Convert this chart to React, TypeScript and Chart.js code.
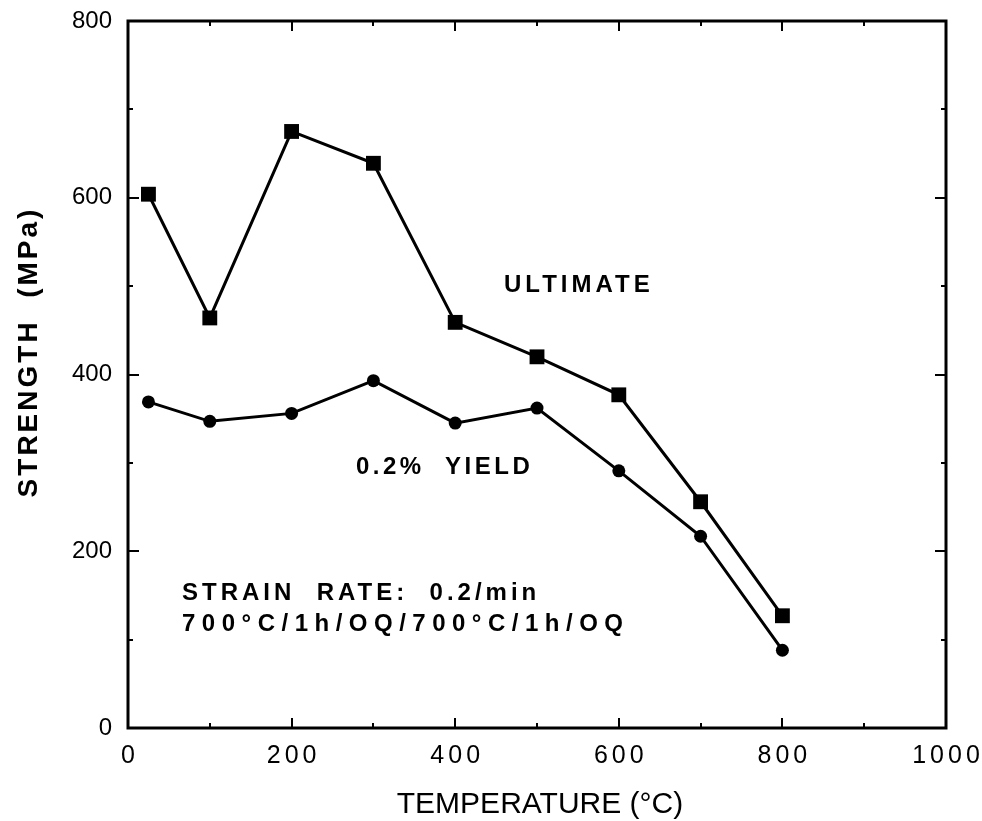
import React, { useEffect, useRef } from "react";
import { Chart, registerables } from "chart.js";

Chart.register(...registerables);

// Test temperatures (°C)
const temperatures = [25, 100, 200, 300, 400, 500, 600, 700, 800];
// Ultimate tensile strength (MPa)
const ultimateStrength = [604, 464, 675, 639, 459, 420, 377, 256, 127];
// 0.2% offset yield strength (MPa)
const yieldStrength = [369, 347, 356, 393, 345, 362, 291, 217, 88];

// Axis ranges and tick spacing
const xRange = [0, 1000];
const yRange = [0, 800];
const tickStep = 100;
const labelStep = 200;

const FONT = '"Liberation Sans", Arial, Helvetica, sans-serif';

const W = 982;
const H = 821;
const PLOT_TOP = 21;
const PLOT_BOTTOM = 728;

type Note = { text: string; x: number; y: number; size: number; spacing: number };

const notes: Note[] = [
  { text: "ULTIMATE", x: 504, y: 285, size: 24, spacing: 4 },
  { text: "0.2%  YIELD", x: 356, y: 467, size: 24, spacing: 3.5 },
  { text: "STRAIN  RATE:  0.2/min", x: 182, y: 593, size: 24, spacing: 4 },
  { text: "700°C/1h/OQ/700°C/1h/OQ", x: 182, y: 624, size: 24, spacing: 6.5 },
];

const framePlugin = {
  id: "frame",
  afterDraw(chart: any) {
    const { ctx, chartArea, scales } = chart;
    const { left, right, top, bottom } = chartArea;
    const xs = scales.x;
    const ys = scales.y;
    ctx.save();
    ctx.strokeStyle = "#000";
    ctx.lineWidth = 3;
    ctx.strokeRect(left, top, right - left, bottom - top);

    // inward ticks on all four sides
    ctx.lineWidth = 2;
    ctx.beginPath();
    xs.ticks.forEach((t: any) => {
      if (t.value <= xRange[0] || t.value >= xRange[1]) return;
      const px = Math.round(xs.getPixelForValue(t.value));
      const len = t.value % labelStep === 0 ? 10 : 5;
      ctx.moveTo(px, bottom);
      ctx.lineTo(px, bottom - len);
      ctx.moveTo(px, top);
      ctx.lineTo(px, top + len);
    });
    ys.ticks.forEach((t: any) => {
      if (t.value <= yRange[0] || t.value >= yRange[1]) return;
      const py = Math.round(ys.getPixelForValue(t.value));
      const len = t.value % labelStep === 0 ? 11 : 5;
      ctx.moveTo(left, py);
      ctx.lineTo(left + len, py);
      ctx.moveTo(right, py);
      ctx.lineTo(right - len, py);
    });
    ctx.stroke();

    // x tick labels
    ctx.fillStyle = "#000";
    ctx.font = `25px ${FONT}`;
    (ctx as any).letterSpacing = "4px";
    ctx.textAlign = "center";
    ctx.textBaseline = "middle";
    xs.ticks.forEach((t: any) => {
      if (t.value % labelStep !== 0) return;
      const px = xs.getPixelForValue(t.value);
      ctx.fillText(String(t.value), px + 2, bottom + 28);
    });

    // axis titles
    (ctx as any).letterSpacing = "0px";
    ctx.font = `30px ${FONT}`;
    ctx.fillText("TEMPERATURE (°C)", 540, 805);

    ctx.save();
    ctx.translate(29, 352);
    ctx.rotate(-Math.PI / 2);
    ctx.font = `bold 28px ${FONT}`;
    (ctx as any).letterSpacing = "3px";
    ctx.fillText("STRENGTH  (MPa)", 0, 0);
    ctx.restore();

    // curve labels and test conditions
    ctx.textAlign = "left";
    notes.forEach((n) => {
      ctx.font = `bold ${n.size}px ${FONT}`;
      (ctx as any).letterSpacing = `${n.spacing}px`;
      ctx.fillText(n.text, n.x, n.y);
    });
    (ctx as any).letterSpacing = "0px";
    ctx.restore();
  },
};

export default function App() {
  const canvasRef = useRef<HTMLCanvasElement | null>(null);

  useEffect(() => {
    if (!canvasRef.current) return;
    const toPoints = (ys: number[]) => temperatures.map((t, i) => ({ x: t, y: ys[i] }));

    const chart = new Chart(canvasRef.current, {
      type: "scatter",
      data: {
        datasets: [
          {
            label: "ULTIMATE",
            data: toPoints(ultimateStrength),
            showLine: true,
            borderColor: "#000",
            borderWidth: 3,
            backgroundColor: "#000",
            pointStyle: "rect",
            pointRadius: 10.5,
            pointBorderWidth: 0,
          },
          {
            label: "0.2% YIELD",
            data: toPoints(yieldStrength),
            showLine: true,
            borderColor: "#000",
            borderWidth: 3,
            backgroundColor: "#000",
            pointStyle: "circle",
            pointRadius: 6.5,
            pointBorderWidth: 0,
          },
        ],
      },
      options: {
        responsive: false,
        animation: false,
        layout: { padding: { left: 0, top: 0, right: 36, bottom: 0 } },
        plugins: {
          legend: { display: false },
          tooltip: { enabled: false },
        },
        scales: {
          x: {
            type: "linear",
            min: xRange[0],
            max: xRange[1],
            grid: { display: false },
            border: { display: false },
            ticks: { stepSize: tickStep, display: false },
            afterFit: (s: any) => {
              s.height = H - PLOT_BOTTOM;
            },
          },
          y: {
            type: "linear",
            min: yRange[0],
            max: yRange[1],
            grid: { display: false, drawTicks: false },
            border: { display: false },
            ticks: {
              stepSize: tickStep,
              padding: 16,
              color: "#000",
              font: { family: FONT, size: 24 },
              callback: (v: any) => (Number(v) % labelStep === 0 ? String(v) : ""),
            },
            afterFit: (s: any) => {
              s.width = 128;
              s.paddingTop = PLOT_TOP;
            },
          },
        },
      },
      plugins: [framePlugin],
    });
    return () => chart.destroy();
  }, []);

  return (
    <div style={{ position: "fixed", left: 0, top: 0, width: W, height: H, background: "#fff" }}>
      <canvas ref={canvasRef} width={W} height={H} />
    </div>
  );
}
